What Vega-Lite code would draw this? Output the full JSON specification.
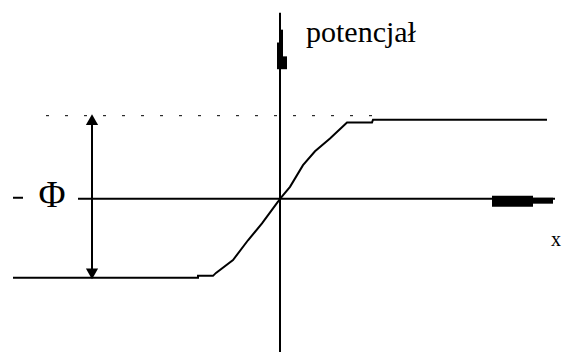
{
  "$schema": "https://vega.github.io/schema/vega-lite/v6.json",
  "width": 563,
  "height": 356,
  "autosize": {"type": "fit", "contains": "padding"},
  "padding": 0,
  "background": "white",
  "config": {"view": {"stroke": null}},
  "datasets": {
    "lines": [
      {"seg": "curve", "i": 1, "x": 13, "y": 281},
      {"seg": "curve", "i": 2, "x": 198, "y": 281},
      {"seg": "curve", "i": 3, "x": 198, "y": 279},
      {"seg": "curve", "i": 4, "x": 213, "y": 279},
      {"seg": "curve", "i": 5, "x": 216, "y": 276},
      {"seg": "curve", "i": 6, "x": 233, "y": 263},
      {"seg": "curve", "i": 7, "x": 248, "y": 243},
      {"seg": "curve", "i": 8, "x": 262, "y": 226},
      {"seg": "curve", "i": 9, "x": 278, "y": 204},
      {"seg": "curve", "i": 10, "x": 280, "y": 201},
      {"seg": "curve", "i": 11, "x": 290, "y": 189},
      {"seg": "curve", "i": 12, "x": 303, "y": 167},
      {"seg": "curve", "i": 13, "x": 315, "y": 153},
      {"seg": "curve", "i": 14, "x": 330, "y": 140},
      {"seg": "curve", "i": 15, "x": 347, "y": 124},
      {"seg": "curve", "i": 16, "x": 372, "y": 124},
      {"seg": "curve", "i": 17, "x": 373, "y": 121},
      {"seg": "curve", "i": 18, "x": 547, "y": 121},
      {"seg": "haxis", "i": 1, "x": 78, "y": 201},
      {"seg": "haxis", "i": 2, "x": 555, "y": 201},
      {"seg": "dash", "i": 1, "x": 13, "y": 200},
      {"seg": "dash", "i": 2, "x": 23, "y": 200},
      {"seg": "vaxis", "i": 1, "x": 280, "y": 13},
      {"seg": "vaxis", "i": 2, "x": 280, "y": 356},
      {"seg": "arrow", "i": 1, "x": 92, "y": 122},
      {"seg": "arrow", "i": 2, "x": 92, "y": 278}
    ],
    "dotted": [
      {"x": 46, "y": 117},
      {"x": 372, "y": 117}
    ],
    "blocks": [
      {"x": 492, "x2": 533, "y": 198, "y2": 209},
      {"x": 533, "x2": 553, "y": 200, "y2": 206},
      {"x": 280, "x2": 283, "y": 30, "y2": 44},
      {"x": 277, "x2": 283, "y": 43, "y2": 58},
      {"x": 277, "x2": 287, "y": 57, "y2": 70}
    ],
    "heads": [
      {"x": 92, "y": 121, "shape": "triangle-up"},
      {"x": 92, "y": 277, "shape": "triangle-down"}
    ],
    "title": [{"label": "potencjał", "x": 306, "y": 42}],
    "labels": [
      {"label": "Φ", "x": 52, "y": 209, "size": 37},
      {"label": "x", "x": 556, "y": 249, "size": 20}
    ]
  },
  "layer": [
    {
      "data": {"name": "lines"},
      "mark": {"type": "line", "color": "black", "strokeWidth": 2, "strokeCap": "butt"},
      "encoding": {
        "x": {"field": "x", "type": "quantitative", "scale": {"domain": [0, 563], "nice": false, "zero": false}, "axis": null},
        "y": {"field": "y", "type": "quantitative", "scale": {"domain": [0, 356], "reverse": true, "nice": false, "zero": false}, "axis": null},
        "detail": {"field": "seg"},
        "order": {"field": "i"}
      }
    },
    {
      "data": {"name": "dotted"},
      "mark": {"type": "line", "color": "black", "strokeWidth": 1, "strokeDash": [3, 16]},
      "encoding": {
        "x": {"field": "x", "type": "quantitative"},
        "y": {"field": "y", "type": "quantitative"}
      }
    },
    {
      "data": {"name": "blocks"},
      "mark": {"type": "rect", "color": "black"},
      "encoding": {
        "x": {"field": "x", "type": "quantitative"},
        "x2": {"field": "x2"},
        "y": {"field": "y", "type": "quantitative"},
        "y2": {"field": "y2"}
      }
    },
    {
      "data": {"name": "heads"},
      "mark": {"type": "point", "filled": true, "color": "black", "opacity": 1, "size": 150},
      "encoding": {
        "x": {"field": "x", "type": "quantitative"},
        "y": {"field": "y", "type": "quantitative"},
        "shape": {"field": "shape", "type": "nominal", "scale": null, "legend": null}
      }
    },
    {
      "data": {"name": "title"},
      "mark": {"type": "text", "font": "Liberation Serif", "fontSize": 30, "color": "black", "baseline": "alphabetic", "align": "left"},
      "encoding": {
        "x": {"field": "x", "type": "quantitative"},
        "y": {"field": "y", "type": "quantitative"},
        "text": {"field": "label"}
      }
    },
    {
      "data": {"name": "labels"},
      "mark": {"type": "text", "font": "Liberation Serif", "color": "black", "baseline": "alphabetic", "align": "center"},
      "encoding": {
        "x": {"field": "x", "type": "quantitative"},
        "y": {"field": "y", "type": "quantitative"},
        "text": {"field": "label"},
        "size": {"field": "size", "type": "quantitative", "scale": null, "legend": null}
      }
    }
  ]
}
